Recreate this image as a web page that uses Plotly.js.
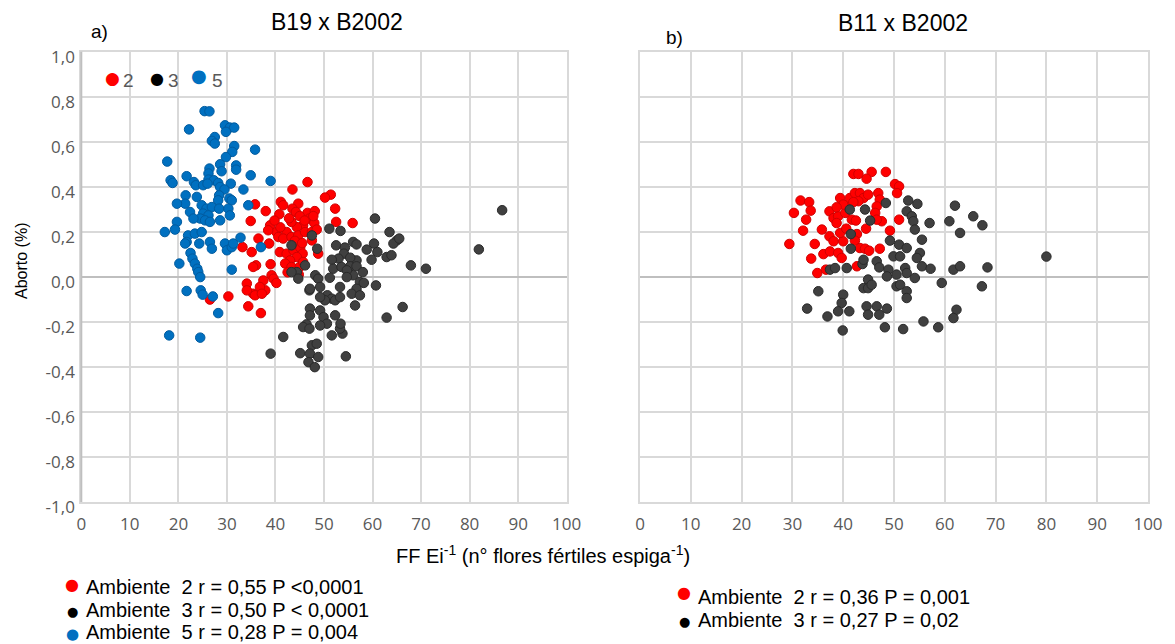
<!DOCTYPE html>
<html>
<head>
<meta charset="utf-8">
<script src="https://cdn.plot.ly/plotly-3.0.1.min.js"></script>
<style>html,body{margin:0;padding:0;background:#fff;}#chart{width:1175px;height:644px;}</style>
</head>
<body>
<div id="chart"></div>
<script>
// ---- Data: panel a) B19 x B2002 ----
const a_amb2_x = [26.5,30.3,46.6,43.5,51.4,50.2,52.3,52.5,55.9,41.1,41.6,44.7,43.5,44.2,35.8,38.0,40.8,34.9,46.6,48.1,47.0,48.0,45.7,44.4,43.3,42.3,40.2,38.9,38.5,40.6,41.6,43.3,44.7,46.1,47.5,48.5,38.7,33.2,35.1,36.0,35.4,40.9,42.3,43.7,45.1,45.6,44.4,43.0,42.0,43.3,45.0,45.7,48.8,39.0,39.2,37.5,39.6,40.2,37.9,36.8,35.4,34.1,34.1,35.8,37.2,34.4,37.0,47.5,45.0,46.0,42.8,47.8,44.0,45.5,41.0,39.8,36.5,44.8,42.5];
const a_amb2_y = [-0.101,-0.087,0.421,0.388,0.365,0.352,0.303,0.244,0.239,0.333,0.318,0.325,0.303,0.288,0.322,0.292,0.278,0.248,0.284,0.292,0.259,0.239,0.229,0.221,0.244,0.199,0.199,0.229,0.207,0.177,0.170,0.177,0.184,0.199,0.199,0.210,0.148,0.132,0.110,0.051,0.044,0.110,0.103,0.118,0.130,0.103,0.088,0.073,0.059,0.044,0.044,0.066,0.103,0.056,0.007,-0.016,-0.008,-0.027,-0.060,-0.045,-0.075,-0.030,-0.060,-0.082,-0.075,-0.131,-0.161,0.162,0.270,0.250,0.260,0.270,0.160,0.150,0.220,0.250,0.170,0.010,0.020];

const a_amb3_x = [60.5,63.5,65.0,64.3,62.9,63.9,67.9,51.1,53.4,47.5,48.6,43.3,46.1,44.4,43.3,44.7,48.2,48.8,52.5,54.3,54.1,56.0,56.7,58.8,60.3,61.0,59.8,56.7,55.4,53.0,51.6,51.9,53.6,55.4,56.7,58.0,56.0,57.4,58.2,60.7,56.7,51.2,53.3,47.0,50.7,51.6,50.2,52.3,53.3,55.7,57.4,56.4,52.3,49.2,47.1,47.1,49.9,50.6,46.4,45.7,47.0,49.2,51.6,53.8,53.3,41.6,47.5,48.5,45.1,47.1,48.8,46.8,48.1,39.0,54.5,66.2,62.9,53.4,47.1,49.2,49.2,54.7,54.7,86.7,81.9,71.0,65.5];
const a_amb3_y = [0.259,0.199,0.162,0.148,0.088,0.096,0.051,0.214,0.204,0.184,0.125,0.140,0.051,0.021,0.021,-0.008,0.007,-0.008,0.140,0.130,0.103,0.155,0.144,0.121,0.148,0.110,0.076,0.073,0.085,0.081,0.076,0.036,0.044,0.047,0.047,0.021,0.007,-0.023,-0.027,-0.038,-0.053,-0.004,-0.045,-0.060,-0.082,-0.097,-0.104,-0.104,-0.090,-0.075,-0.082,-0.127,-0.171,-0.149,-0.141,-0.171,-0.179,-0.208,-0.211,-0.223,-0.230,-0.216,-0.260,-0.252,-0.230,-0.267,-0.304,-0.297,-0.339,-0.341,-0.356,-0.379,-0.401,-0.341,-0.353,-0.134,-0.181,-0.208,-0.053,-0.045,-0.090,0.029,-0.001,0.296,0.122,0.036,0.170];

const a_amb5_x = [25.4,26.4,22.2,29.6,30.6,31.5,29.8,27.5,26.9,27.5,31.5,31.1,35.8,17.7,29.8,28.6,31.9,31.9,26.4,26.2,28.9,34.9,39.0,18.4,18.8,21.7,23.2,23.6,25.1,26.2,27.3,26.0,28.2,28.6,30.8,29.5,33.4,21.5,23.8,21.4,19.7,28.4,28.2,30.5,31.0,24.8,25.8,26.9,25.1,26.2,24.5,25.5,26.5,28.4,30.3,30.6,28.6,22.4,23.1,19.7,34.4,17.2,19.3,22.0,23.4,24.8,21.7,21.4,24.3,26.5,26.9,22.5,22.9,23.4,23.9,24.1,24.5,20.2,29.6,30.0,31.0,31.3,32.8,37.0,31.0,21.7,24.6,25.0,27.1,28.2,18.1,24.5];
const a_amb5_y = [0.736,0.735,0.655,0.673,0.663,0.663,0.644,0.621,0.604,0.592,0.581,0.555,0.565,0.512,0.532,0.500,0.495,0.476,0.481,0.459,0.469,0.451,0.426,0.429,0.417,0.447,0.421,0.407,0.407,0.432,0.429,0.414,0.417,0.399,0.414,0.388,0.388,0.362,0.355,0.325,0.325,0.362,0.340,0.348,0.340,0.318,0.303,0.310,0.281,0.273,0.259,0.251,0.244,0.303,0.303,0.273,0.251,0.288,0.259,0.244,0.318,0.199,0.210,0.184,0.192,0.199,0.155,0.148,0.148,0.155,0.125,0.106,0.081,0.059,0.036,0.021,-0.001,0.059,0.148,0.118,0.132,0.148,0.174,0.132,0.032,-0.063,-0.060,-0.079,-0.087,-0.161,-0.260,-0.270];

// ---- Data: panel b) B11 x B2002 ----
const b_amb2_x = [42.0,43.0,45.6,48.4,44.6,50.2,51.0,50.6,31.6,33.3,30.3,33.6,32.7,32.1,29.4,33.7,34.9,36.6,34.4,36.1,37.4,39.0,39.7,35.8,37.3,38.1,40.0,39.4,40.6,42.7,42.3,43.3,44.3,45.1,47.2,49.2,44.5,37.3,38.1,39.0,38.7,40.4,41.7,42.5,41.0,39.4,41.3,42.3,43.3,44.0,44.9,43.0,42.0,40.0,38.7,46.9,47.2,46.6,46.3,47.6,51.0,46.6,42.7];
const b_amb2_y = [0.457,0.457,0.466,0.466,0.436,0.412,0.402,0.372,0.339,0.332,0.284,0.294,0.254,0.205,0.146,0.081,0.017,0.032,0.146,0.101,0.113,0.106,0.084,0.210,0.180,0.158,0.158,0.195,0.214,0.190,0.161,0.128,0.125,0.116,0.125,0.205,0.214,0.291,0.261,0.269,0.239,0.284,0.254,0.250,0.309,0.350,0.350,0.372,0.372,0.350,0.365,0.336,0.332,0.321,0.309,0.372,0.343,0.313,0.284,0.247,0.254,0.254,0.047];

const b_amb3_x = [62.0,65.6,67.4,60.9,57.0,63.0,52.8,54.6,48.4,44.3,52.5,53.5,53.8,54.1,55.5,45.3,41.3,41.5,41.5,49.2,51.0,52.5,49.9,51.2,55.1,54.5,55.5,57.2,61.7,63.0,68.4,59.4,67.3,62.3,61.7,58.7,55.8,37.4,38.4,40.7,43.8,44.0,46.6,47.1,48.9,48.6,50.5,52.2,52.5,54.1,44.9,44.0,44.9,45.6,50.5,51.2,52.5,52.5,40.0,39.7,39.0,41.2,44.6,46.6,48.6,44.9,47.1,35.1,32.9,36.9,39.9,48.2,51.8,80.0];
const b_amb3_y = [0.316,0.269,0.229,0.247,0.239,0.195,0.339,0.324,0.328,0.299,0.291,0.269,0.247,0.210,0.165,0.250,0.299,0.190,0.125,0.161,0.143,0.128,0.091,0.091,0.106,0.084,0.047,0.036,0.032,0.047,0.042,-0.027,-0.042,-0.146,-0.183,-0.224,-0.198,0.032,0.039,0.039,0.057,0.076,0.069,0.042,0.032,0.002,0.010,0.039,0.017,-0.005,-0.012,-0.050,-0.050,-0.035,-0.042,-0.035,-0.064,-0.094,-0.079,-0.116,-0.153,-0.153,-0.131,-0.131,-0.141,-0.168,-0.168,-0.064,-0.141,-0.176,-0.238,-0.224,-0.232,0.090];

const yTicks = [-1,-0.8,-0.6,-0.4,-0.2,0,0.2,0.4,0.6,0.8,1];
const yTickText = ['-1,0','-0,8','-0,6','-0,4','-0,2','0,0','0,2','0,4','0,6','0,8','1,0'];
const xTicks = [0,10,20,30,40,50,60,70,80,90,100];

const legendA = ['Ambiente\u00a0 2 r = 0,55 P <0,0001','Ambiente\u00a0 3 r = 0,50 P < 0,0001','Ambiente\u00a0 5 r = 0,28 P = 0,004'];
const legendB = ['Ambiente\u00a0 2 r = 0,36 P = 0,001','Ambiente\u00a0 3 r = 0,27 P = 0,02'];

// ---- Styles ----
const RED = '#ff0000', GREY = '#404040', BLUE = '#0070c0';
const W = 1175, H = 644;
const px = x => x / W, py = y => 1 - y / H;

function mk(x, y, color, line, xa, ya) {
  return {type:'scatter', mode:'markers', x:x, y:y, xaxis:xa, yaxis:ya,
    marker:{size:9.5, color:color, line:{color:line, width:1}}, hoverinfo:'skip'};
}
const traces = [
  mk(a_amb2_x, a_amb2_y, RED, '#d00000', 'x', 'y'),
  mk(a_amb5_x, a_amb5_y, BLUE, '#005b9f', 'x', 'y'),
  mk(a_amb3_x, a_amb3_y, GREY, '#2a2a2a', 'x', 'y'),
  mk(b_amb2_x, b_amb2_y, RED, '#d00000', 'x2', 'y2'),
  mk(b_amb3_x, b_amb3_y, GREY, '#2a2a2a', 'x2', 'y2')
];

const GRID = '#d9d9d9', TICKC = '#595959';
const tickFont = {family:'Open Sans, sans-serif', size:17, color:TICKC};
function xax(domain) {
  return {domain:domain, range:[0,100], tickvals:xTicks, ticktext:xTicks.map(String),
    showgrid:true, gridcolor:GRID, gridwidth:2, zeroline:false,
    showline:true, mirror:true, linecolor:GRID, linewidth:2,
    ticks:'', tickfont:tickFont, ticklabelstandoff:6, fixedrange:true};
}
function yax(domain, anchor, labels) {
  return {domain:domain, anchor:anchor, range:[-1,1], tickvals:yTicks, ticktext:yTickText,
    showticklabels:labels, showgrid:true, gridcolor:GRID, gridwidth:2,
    zeroline:true, zerolinecolor:'#bfbfbf', zerolinewidth:2,
    showline:true, mirror:true, linecolor:GRID, linewidth:2,
    ticks:'', tickfont:tickFont, ticklabelshift:5, ticklabelstandoff:1, fixedrange:true};
}
const yDom = [ (H-502)/H, (H-51.7)/H ];

const AF = 'Liberation Sans, Arial, sans-serif';
const DF = 'DejaVu Sans, sans-serif';
const ann = [];
function txt(text, x, y, size, opts) {
  ann.push(Object.assign({text:text, xref:'paper', yref:'paper', x:px(x), y:py(y),
    showarrow:false, xanchor:'left', yanchor:'middle', font:{family:AF, size:size, color:'#000'}}, opts||{}));
}
function dot(x, y, size, color) {
  txt('●', x, y, size, {xanchor:'center', font:{family:DF, size:size, color:color}});
}
txt('B19 x B2002', 337, 22, 23, {xanchor:'center'});
txt('B11 x B2002', 903, 23, 23, {xanchor:'center'});
txt('a)', 89, 31, 19);
txt('b)', 664, 38, 19);
txt('Aborto (%)', 21, 261, 16, {xanchor:'center', textangle:-90});
txt('FF Ei<sup>-1</sup> (n° flores fértiles espiga<sup>-1</sup>)', 543, 554, 20, {xanchor:'center'});
// inline legend (panel a)
dot(112, 78, 17, RED);
txt('2', 121, 81, 19, {font:{family:AF, size:19, color:'#595959'}});
dot(157, 78, 16, '#000');
txt('3', 166, 81, 19, {font:{family:AF, size:19, color:'#595959'}});
dot(199, 75, 18, BLUE);
txt('5', 210, 81, 19, {font:{family:AF, size:19, color:'#595959'}});
// bottom legends
const dotA = [[RED,16,584],['#000',13,611],[BLUE,15,634]];
const yA = [587,610,632];
legendA.forEach((t,i)=>{
  dot(72, dotA[i][2], dotA[i][1], dotA[i][0]);
  txt(t, 84, yA[i], 20);
});
const dotB = [[RED,16,592],['#000',13,621]];
const yB = [597,620];
legendB.forEach((t,i)=>{
  dot(684, dotB[i][2], dotB[i][1], dotB[i][0]);
  txt(t, 696, yB[i], 20);
});

const layout = {
  width:W, height:H, margin:{l:0,r:0,t:0,b:0}, paper_bgcolor:'#fff', plot_bgcolor:'#fff',
  showlegend:false,
  xaxis: xax([81.3/W, 566.7/W]),
  yaxis: yax(yDom, 'x', true),
  xaxis2: Object.assign(xax([640/W, 1148/W]), {anchor:'y2'}),
  yaxis2: yax(yDom, 'x2', false),
  annotations: ann,
  shapes: [
    {type:'line', xref:'x domain', yref:'y domain', x0:0, x1:0, y0:0, y1:1, line:{color:'#bfbfbf', width:2}}
  ]
};
layout.xaxis.anchor = 'y';
Plotly.newPlot('chart', traces, layout, {staticPlot:true, displayModeBar:false});
</script>
</body>
</html>
